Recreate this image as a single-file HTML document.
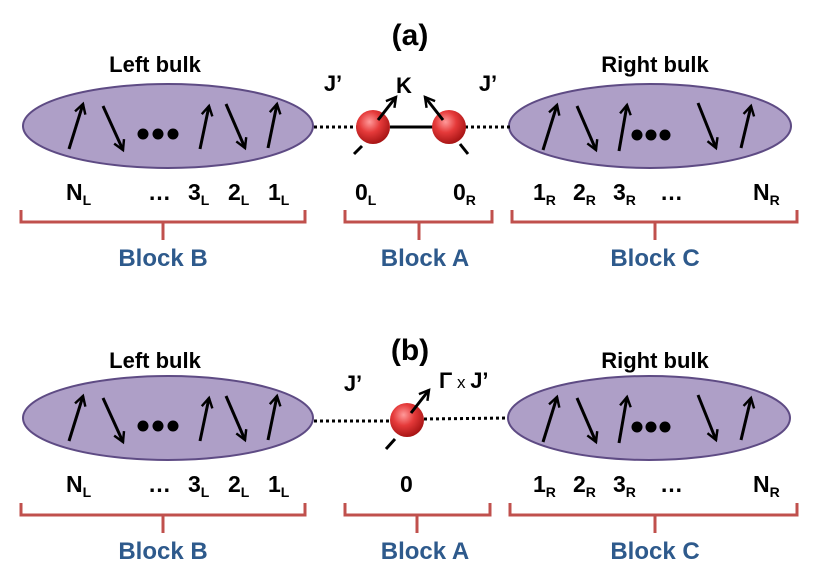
<!DOCTYPE html>
<html><head><meta charset="utf-8"><style>body{margin:0;background:#fff}svg{display:block}text{font-family:"Liberation Sans",sans-serif;font-weight:bold}</style></head><body>
<svg width="830" height="581" viewBox="0 0 830 581" xmlns="http://www.w3.org/2000/svg">
<defs>
<marker id="ah" viewBox="0 0 10 10" refX="8" refY="5" markerWidth="4.5" markerHeight="4.5" orient="auto" markerUnits="strokeWidth"><path d="M1,1 L8,5 L1,9" fill="none" stroke="#000" stroke-width="1.8"/></marker>
<radialGradient id="ball" cx="0.4" cy="0.35" r="0.7"><stop offset="0" stop-color="#ff9a9a"/><stop offset="0.45" stop-color="#e53a3a"/><stop offset="1" stop-color="#a01010"/></radialGradient>
</defs>
<text x="410" y="45" font-size="30" text-anchor="middle">(a)</text>
<text x="155" y="72" font-size="22" text-anchor="middle">Left bulk</text>
<text x="655" y="72" font-size="22" text-anchor="middle">Right bulk</text>
<ellipse cx="168" cy="126" rx="145" ry="42" fill="#ae9fc7" stroke="#5e4b84" stroke-width="2"/>
<ellipse cx="650" cy="126" rx="141" ry="42" fill="#ae9fc7" stroke="#5e4b84" stroke-width="2"/>
<g stroke="#000" stroke-width="3" marker-end="url(#ah)">
<line x1="69" y1="149" x2="83" y2="104"/><line x1="103" y1="106" x2="123" y2="150"/><line x1="200" y1="149" x2="209" y2="106"/><line x1="226" y1="104" x2="245" y2="148"/><line x1="268" y1="148" x2="277" y2="104"/>
<line x1="543" y1="150" x2="557" y2="105"/><line x1="577" y1="106" x2="596" y2="150"/><line x1="619" y1="151" x2="627" y2="105"/><line x1="698" y1="103" x2="716" y2="148"/><line x1="741" y1="148" x2="751" y2="106"/>
</g>
<g fill="#000"><circle cx="143" cy="134" r="5.5"/><circle cx="158" cy="134" r="5.5"/><circle cx="173" cy="134" r="5.5"/><circle cx="637" cy="135" r="5.5"/><circle cx="651" cy="135" r="5.5"/><circle cx="665" cy="135" r="5.5"/></g>
<g stroke="#000" stroke-width="3" stroke-dasharray="3,3"><line x1="314" y1="127" x2="358" y2="127"/><line x1="465" y1="127" x2="510" y2="127"/></g>
<line x1="390" y1="127" x2="433" y2="127" stroke="#000" stroke-width="3"/>
<line x1="354" y1="154" x2="362" y2="146" stroke="#000" stroke-width="3"/>
<line x1="460" y1="144" x2="468" y2="154" stroke="#000" stroke-width="3"/>
<circle cx="373" cy="127" r="17" fill="url(#ball)"/><circle cx="449" cy="127" r="17" fill="url(#ball)"/>
<g stroke="#000" stroke-width="3" marker-end="url(#ah)"><line x1="378" y1="120" x2="396" y2="97"/><line x1="443" y1="120" x2="425" y2="97"/></g>
<text x="404" y="93" font-size="22" text-anchor="middle">K</text>
<text x="333" y="91" font-size="22" text-anchor="middle">J’</text>
<text x="488" y="91" font-size="22" text-anchor="middle">J’</text>
<g font-size="23">
<text x="66" y="200">N<tspan font-size="14" dy="5">L</tspan></text>
<text x="148" y="200">…</text>
<text x="188" y="200">3<tspan font-size="14" dy="5">L</tspan></text>
<text x="228" y="200">2<tspan font-size="14" dy="5">L</tspan></text>
<text x="268" y="200">1<tspan font-size="14" dy="5">L</tspan></text>
<text x="355" y="200">0<tspan font-size="14" dy="5">L</tspan></text>
<text x="453" y="200">0<tspan font-size="14" dy="5">R</tspan></text>
<text x="533" y="200">1<tspan font-size="14" dy="5">R</tspan></text>
<text x="573" y="200">2<tspan font-size="14" dy="5">R</tspan></text>
<text x="613" y="200">3<tspan font-size="14" dy="5">R</tspan></text>
<text x="660" y="200">…</text>
<text x="753" y="200">N<tspan font-size="14" dy="5">R</tspan></text>
</g>
<g fill="none" stroke="#c0504d" stroke-width="3">
<path d="M21,210 V222 H305 V210 M163,222 V240"/>
<path d="M345,210 V222 H492 V210 M419,222 V240"/>
<path d="M512,210 V222 H797 V210 M655,222 V240"/>
</g>
<g font-size="24" fill="#2e5a8c" text-anchor="middle">
<text x="163" y="266">Block B</text><text x="425" y="266">Block A</text><text x="655" y="266">Block C</text>
</g>

<text x="410" y="360" font-size="30" text-anchor="middle">(b)</text>
<text x="155" y="368" font-size="22" text-anchor="middle">Left bulk</text>
<text x="655" y="368" font-size="22" text-anchor="middle">Right bulk</text>
<ellipse cx="168" cy="418" rx="145" ry="42" fill="#ae9fc7" stroke="#5e4b84" stroke-width="2"/>
<ellipse cx="649" cy="418" rx="141" ry="42" fill="#ae9fc7" stroke="#5e4b84" stroke-width="2"/>
<g stroke="#000" stroke-width="3" marker-end="url(#ah)">
<line x1="69" y1="441" x2="83" y2="396"/><line x1="103" y1="398" x2="123" y2="442"/><line x1="200" y1="441" x2="209" y2="398"/><line x1="226" y1="396" x2="245" y2="440"/><line x1="268" y1="440" x2="277" y2="396"/>
<line x1="543" y1="442" x2="557" y2="397"/><line x1="577" y1="398" x2="596" y2="442"/><line x1="619" y1="443" x2="627" y2="397"/><line x1="698" y1="395" x2="716" y2="440"/><line x1="741" y1="440" x2="751" y2="398"/>
</g>
<g fill="#000"><circle cx="143" cy="426" r="5.5"/><circle cx="158" cy="426" r="5.5"/><circle cx="173" cy="426" r="5.5"/><circle cx="637" cy="427" r="5.5"/><circle cx="651" cy="427" r="5.5"/><circle cx="665" cy="427" r="5.5"/></g>
<g stroke="#000" stroke-width="3" stroke-dasharray="3,3"><line x1="314" y1="421" x2="392" y2="421"/><line x1="424" y1="419" x2="508" y2="418"/></g>
<line x1="386" y1="449" x2="395" y2="439" stroke="#000" stroke-width="3"/>
<circle cx="407" cy="420" r="17" fill="url(#ball)"/>
<line x1="411" y1="413" x2="429" y2="390" stroke="#000" stroke-width="3" marker-end="url(#ah)"/>
<text x="353" y="391" font-size="22" text-anchor="middle">J’</text>
<text x="439" y="388" font-size="22">Γ<tspan font-weight="normal" font-size="17"> x </tspan>J’</text>
<g font-size="23">
<text x="66" y="492">N<tspan font-size="14" dy="5">L</tspan></text>
<text x="148" y="492">…</text>
<text x="188" y="492">3<tspan font-size="14" dy="5">L</tspan></text>
<text x="228" y="492">2<tspan font-size="14" dy="5">L</tspan></text>
<text x="268" y="492">1<tspan font-size="14" dy="5">L</tspan></text>
<text x="400" y="492">0</text>
<text x="533" y="492">1<tspan font-size="14" dy="5">R</tspan></text>
<text x="573" y="492">2<tspan font-size="14" dy="5">R</tspan></text>
<text x="613" y="492">3<tspan font-size="14" dy="5">R</tspan></text>
<text x="660" y="492">…</text>
<text x="753" y="492">N<tspan font-size="14" dy="5">R</tspan></text>
</g>
<g fill="none" stroke="#c0504d" stroke-width="3">
<path d="M21,503 V515 H305 V503 M163,515 V533"/>
<path d="M345,503 V515 H490 V503 M417,515 V533"/>
<path d="M510,503 V515 H797 V503 M655,515 V533"/>
</g>
<g font-size="24" fill="#2e5a8c" text-anchor="middle">
<text x="163" y="559">Block B</text><text x="425" y="559">Block A</text><text x="655" y="559">Block C</text>
</g>
</svg>
</body></html>
